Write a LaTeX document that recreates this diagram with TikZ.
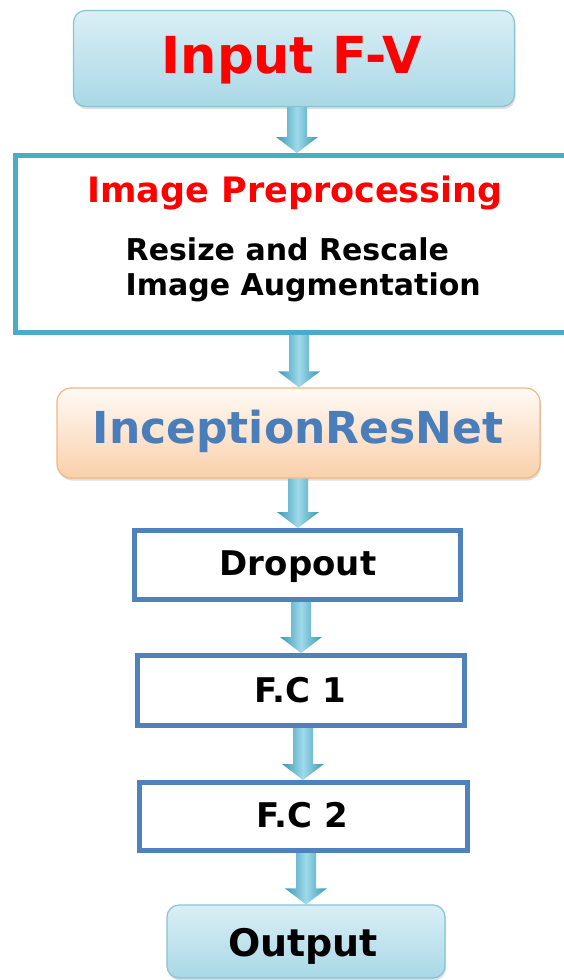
\documentclass[tikz,border=0pt]{standalone}
\usepackage{fontspec}
\setmainfont{DejaVu Sans}
\usetikzlibrary{calc,shadows}
\definecolor{boxblue}{HTML}{4F81BD}
\definecolor{tealb}{HTML}{4BACC6}
\definecolor{lbtop}{HTML}{DAEFF6}
\definecolor{lbbot}{HTML}{A9D8E6}
\definecolor{lbline}{HTML}{86C4D6}
\definecolor{pchtop}{HTML}{FFFAF5}
\definecolor{pchbot}{HTML}{FAD0AB}
\definecolor{pchline}{HTML}{F4B583}
\definecolor{txtblue}{HTML}{4A7EBB}
\definecolor{txtred}{HTML}{FF0000}
\definecolor{arrdark}{HTML}{3A98B4}
\definecolor{arrlight}{HTML}{9FD9EA}
\tikzset{
 roundbox/.style={rounded corners=12pt, line width=1.2pt, inner sep=0pt,
   drop shadow={opacity=0.25, shadow xshift=1pt, shadow yshift=-2.5pt}},
 bluebox/.style={roundbox, draw=lbline, top color=lbtop, bottom color=lbbot},
 peachbox/.style={roundbox, draw=pchline, top color=pchtop, bottom color=pchbot},
 tealframe/.style={draw=tealb, line width=5pt, fill=white, inner sep=0pt},
 layerbox/.style={draw=boxblue, line width=5pt, fill=white, inner sep=0pt},
 lbl/.style={inner sep=0pt, anchor=base},
 blockarrow/.style={left color=arrdark, right color=arrdark, middle color=arrlight},
}
\newcommand\blockarr[2]{%
 \shade[blockarrow] let \p1=(#1), \p2=(#2) in
 (\x1-10pt,\y1) -- (\x1+10pt,\y1) -- (\x1+10pt,\y2+16pt) -- (\x1+21pt,\y2+16pt)
 -- (\x1,\y2) -- (\x1-21pt,\y2+16pt) -- (\x1-10pt,\y2+16pt) -- cycle;}
\begin{document}
\begin{tikzpicture}[x=1pt,y=-1pt]
\useasboundingbox (0,0) rectangle (564,980);
\fill[white] (0,0) rectangle (564,980);
\clip (0,0) rectangle (564,980);
% boxes
\node[bluebox, minimum width=441pt, minimum height=96pt] (inp) at (294,58.5) {};
\node[tealframe, minimum width=554.5pt, minimum height=177pt] (pre) at (292.75,244) {};
\node[peachbox, rounded corners=14pt, minimum width=483pt, minimum height=90pt] (inc) at (298.5,433) {};
\node[layerbox, minimum width=326pt, minimum height=69pt] (drop) at (297.5,565) {};
\node[layerbox, minimum width=327pt, minimum height=70pt] (fc1) at (301,690.5) {};
\node[layerbox, minimum width=328pt, minimum height=68pt] (fc2) at (303.5,816.5) {};
\node[bluebox, minimum width=278pt, minimum height=73pt] (out) at (306,941.5) {};
% texts
\node[lbl, text=txtred, font=\bfseries\fontsize{51}{51}\selectfont] (tinp) at (292,73) {Input F-V};
\node[lbl, text=txtred, font=\bfseries\fontsize{35}{35}\selectfont] (tpre) at (295,202) {Image Preprocessing};
\node[lbl, anchor=base west, font=\bfseries\fontsize{30}{30}\selectfont] (tres) at (125.5,260) {Resize and Rescale};
\node[lbl, anchor=base west, font=\bfseries\fontsize{30}{30}\selectfont] (taug) at (125.5,295) {Image Augmentation};
\node[lbl, text=txtblue, font=\bfseries\fontsize{44}{44}\selectfont] (tinc) at (298,443) {InceptionResNet};
\node[lbl, font=\bfseries\fontsize{34}{34}\selectfont] (tdrop) at (298,575) {Dropout};
\node[lbl, font=\bfseries\fontsize{34}{34}\selectfont] (tfc1) at (300,702) {F.C 1};
\node[lbl, font=\bfseries\fontsize{34}{34}\selectfont] (tfc2) at (302,827) {F.C 2};
\node[lbl, font=\bfseries\fontsize{38}{38}\selectfont] (tout) at (303,956) {Output};
% arrows
\coordinate (ax1) at (297,0);
\coordinate (ax2) at (299,0);
\coordinate (ax3) at (298,0);
\coordinate (ax4) at (301,0);
\coordinate (ax5) at (303,0);
\coordinate (ax6) at (306,0);
\blockarr{ax1 |- inp.south}{ax1 |- pre.north}
\blockarr{ax2 |- pre.south}{ax2 |- inc.north}
\blockarr{ax3 |- inc.south}{ax3 |- drop.north}
\blockarr{ax4 |- drop.south}{ax4 |- fc1.north}
\blockarr{ax5 |- fc1.south}{ax5 |- fc2.north}
\blockarr{ax6 |- fc2.south}{ax6 |- out.north}
\end{tikzpicture}
\end{document}
